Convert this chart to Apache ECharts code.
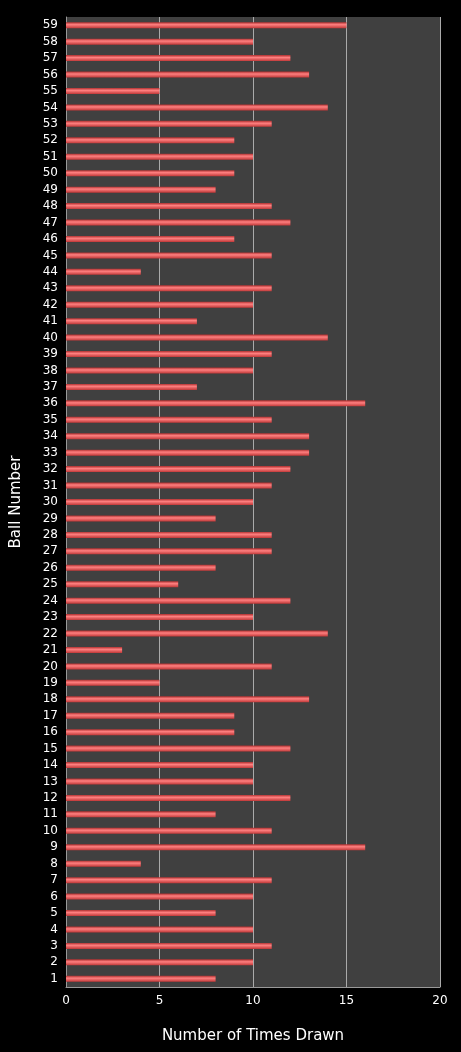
<!DOCTYPE html><html><head><meta charset="utf-8">
<script src="https://cdn.jsdelivr.net/npm/echarts@6/dist/echarts.min.js"></script>
<style>html,body{margin:0;padding:0;background:#000}#c{width:461px;height:1052px}</style></head><body><div id="c"></div>
<script>
const balls = Array.from({length:59},(_,i)=>String(i+1));
const timesDrawn = [8,10,11,10,8,10,11,4,16,11,8,12,10,10,12,9,9,13,5,11,3,14,10,12,6,8,11,11,8,10,11,12,13,13,11,16,7,10,11,14,7,10,11,4,11,9,12,11,8,9,10,9,11,14,5,13,12,10,15];
const chart = echarts.init(document.getElementById('c'));
chart.setOption({
  backgroundColor:'#000',
  grid:{left:66,right:21,top:17,bottom:65,backgroundColor:'#404040',show:true,borderWidth:0},
  xAxis:{type:'value',min:0,max:20,interval:5,name:'Number of Times Drawn',nameLocation:'middle',nameGap:42,
    nameTextStyle:{color:'#fff',fontSize:15,fontFamily:'DejaVu Sans'},
    axisLabel:{color:'#fff',fontSize:12,fontFamily:'DejaVu Sans'},
    axisLine:{show:true,lineStyle:{color:'#999'}},axisTick:{show:false},
    splitLine:{lineStyle:{color:'#aaa',width:1}}},
  yAxis:{type:'category',data:balls,name:'Ball Number',nameLocation:'middle',nameGap:42,
    nameTextStyle:{color:'#fff',fontSize:15,fontFamily:'DejaVu Sans'},
    axisLabel:{color:'#fff',fontSize:12,fontFamily:'DejaVu Sans',interval:0},
    axisLine:{show:true,lineStyle:{color:'#999'}},axisTick:{show:false}},
  series:[{type:'bar',data:timesDrawn,barWidth:6,
    itemStyle:{color:new echarts.graphic.LinearGradient(0,0,0,1,[{offset:0,color:'#b03030'},{offset:0.4,color:'#ff8080'},{offset:1,color:'#c03838'}])}}]
});
</script></body></html>
